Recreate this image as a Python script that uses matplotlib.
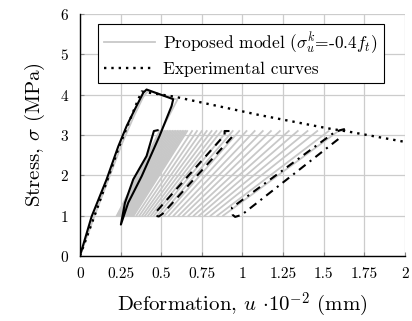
import matplotlib
matplotlib.use("Agg")
import matplotlib.pyplot as plt

plt.rcParams['font.family'] = 'serif'
plt.rcParams['font.serif'] = ['cmr10']
plt.rcParams['mathtext.fontset'] = 'cm'
plt.rcParams['axes.formatter.use_mathtext'] = True

# Experimental monotonic envelope (dotted)
env_x = [0, 0.09, 0.17, 0.24, 0.30, 0.35, 0.38, 0.585, 1.1, 1.52, 1.66, 2.0]
env_y = [0, 1.0, 1.9, 2.7, 3.3, 3.8, 4.08, 3.95, 3.5, 3.17, 3.08, 2.83]

# Experimental cycles: first (solid), intermediate (dashed), final (dash-dot)
s1_x = [0, 0.072, 0.164, 0.236, 0.287, 0.338, 0.39, 0.41, 0.574, 0.564,
        0.49, 0.38, 0.297, 0.252, 0.277, 0.328, 0.41, 0.455, 0.478]
s1_y = [0, 0.98, 1.9, 2.72, 3.22, 3.64, 4.05, 4.13, 3.89, 3.72,
        2.98, 1.98, 1.32, 0.78, 1.32, 1.9, 2.48, 3.1, 3.12]
d_x = [0.935, 0.51, 0.485, 0.465, 0.47, 0.89, 0.89, 0.925]
d_y = [2.95, 1.05, 0.98, 1.0, 1.1, 3.0, 3.1, 3.1]
dd_x = [1.59, 0.995, 0.955, 0.94, 0.935, 1.56, 1.60, 1.63]
dd_y = [2.9, 1.02, 0.97, 1.02, 1.2, 3.05, 3.12, 3.15]

# Proposed model: monotonic loading to peak and first unloading
g_load_x = [0, 0.09, 0.18, 0.26, 0.33, 0.39, 0.42, 0.60, 0.227]
g_load_y = [0, 1.0, 1.95, 2.8, 3.45, 3.95, 4.1, 3.88, 1.0]

# Proposed model: cyclic branches between sigma_min and sigma_max
sig_min = 1.0
sig_max = 3.1
cyc_top_x = [0.49, 0.50, 0.51, 0.52, 0.53, 0.54, 0.55, 0.56, 0.57, 0.58,
             0.59, 0.60, 0.61, 0.62, 0.63, 0.64, 0.65, 0.66, 0.69, 0.72,
             0.75, 0.78, 0.81, 0.84, 0.87, 0.905, 0.94, 0.98, 1.025, 1.075,
             1.125, 1.175, 1.23, 1.285, 1.34, 1.40, 1.46, 1.53, 1.59]
cyc_bot_x = [0.230, 0.236, 0.242, 0.248, 0.254, 0.260, 0.266, 0.272, 0.277, 0.283,
             0.289, 0.295, 0.301, 0.307, 0.313, 0.319, 0.325, 0.331, 0.348, 0.366,
             0.384, 0.401, 0.419, 0.437, 0.455, 0.475, 0.496, 0.520, 0.546, 0.576,
             0.606, 0.635, 0.668, 0.700, 0.733, 0.768, 0.804, 0.845, 0.881]
g_end_x = [1.59, 1.63]
g_end_y = [3.1, 3.12]

x_ticks = [0, 0.25, 0.5, 0.75, 1, 1.25, 1.5, 1.75, 2]
x_tick_labels = ['0', '0.25', '0.5', '0.75', '1', '1.25', '1.5', '1.75', '2']
y_ticks = [0, 1, 2, 3, 4, 5, 6]

fig = plt.figure(figsize=(4.12, 3.21), dpi=100)
ax = fig.add_axes([0.194, 0.2025, 0.789, 0.7535])

gray = '#c8c8c8'
model_handle, = ax.plot(g_load_x, g_load_y, color=gray, lw=1.3, zorder=2,
                        label=r'Proposed model ($\sigma_u^k$=-0.4$f_t$)')
for xb, xt in zip(cyc_bot_x, cyc_top_x):
    ax.plot([xb, xt], [sig_min, sig_max], color=gray, lw=1.3, zorder=2)
ax.plot(g_end_x, g_end_y, color=gray, lw=1.3, zorder=2)

exp_handle, = ax.plot(env_x, env_y, color='black', lw=1.7,
                      linestyle=(0, (1, 2.1)), zorder=3, label='Experimental curves')
ax.plot(s1_x, s1_y, color='black', lw=1.5, zorder=4)
ax.plot(d_x, d_y, color='black', lw=1.5, linestyle=(0, (4, 3)), zorder=4)
ax.plot(dd_x, dd_y, color='black', lw=1.5, linestyle=(0, (4, 2.5, 1, 2.5)), zorder=4)

ax.set_xlim(0, 2)
ax.set_ylim(0, 6)
ax.set_xticks(x_ticks)
ax.set_xticklabels(x_tick_labels)
ax.set_yticks(y_ticks)
ax.grid(True, color='#cccccc', lw=0.9)
ax.set_axisbelow(True)
for s in ['top', 'right']:
    ax.spines[s].set_visible(False)
for s in ['left', 'bottom']:
    ax.spines[s].set_linewidth(1.0)
ax.tick_params(direction='in', length=3, color='#888888', labelsize=11, pad=8)

ax.set_xlabel(r'Deformation, $u$ $\cdot 10^{-2}$ (mm)', fontsize=15, labelpad=7)
ax.set_ylabel(r'Stress, $\sigma$ (MPa)', fontsize=15, labelpad=9)

leg = ax.legend(handles=[model_handle, exp_handle], loc='upper left',
                bbox_to_anchor=(0.03, 0.995), fontsize=12.5, frameon=True,
                fancybox=False, edgecolor='black', framealpha=1,
                handlelength=2.9, borderpad=0.35, labelspacing=0.35,
                handletextpad=0.5)
leg.get_frame().set_linewidth(0.8)

fig.savefig('out.png', dpi=100)
